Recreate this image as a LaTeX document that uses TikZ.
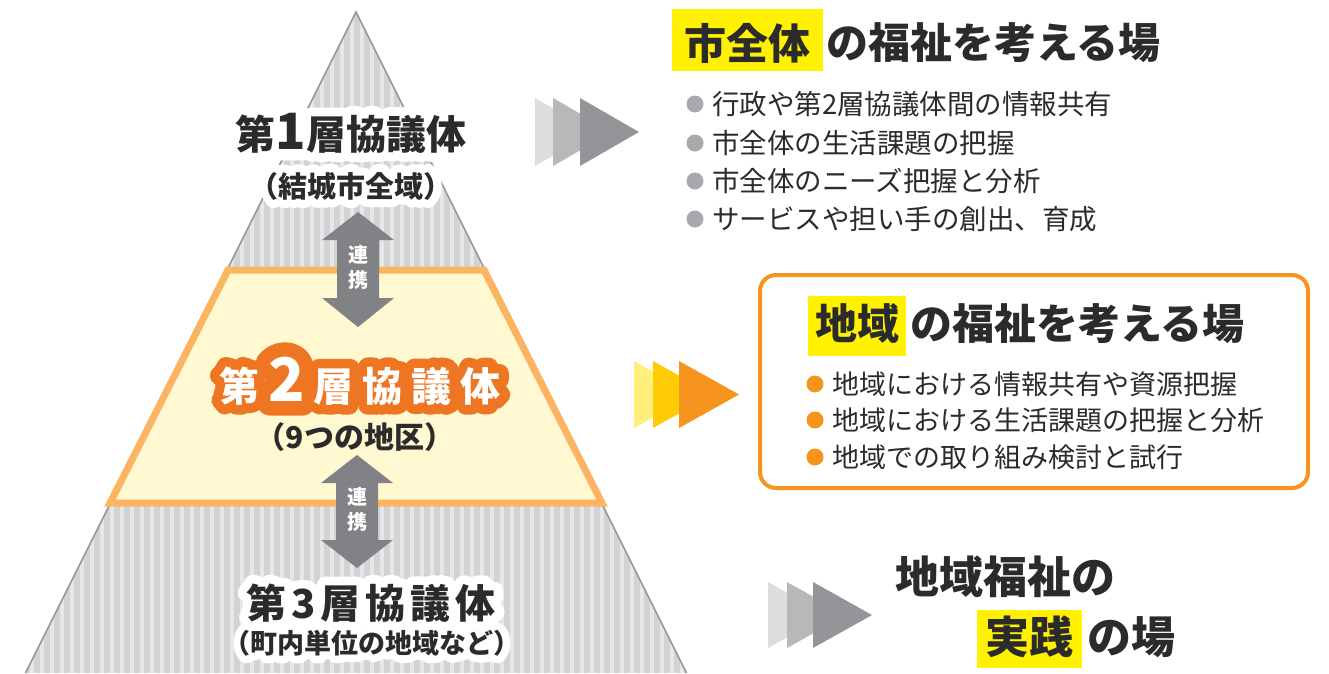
\documentclass[tikz,border=0pt]{standalone}
\usepackage{fontspec}
\newfontfamily\jp{Noto Sans CJK JP}
\definecolor{txt}{HTML}{2B2B2B}
\definecolor{hl}{HTML}{FFF100}
\definecolor{gA}{HTML}{DCDDDE}
\definecolor{gB}{HTML}{B7B8BA}
\definecolor{gC}{HTML}{939598}
\definecolor{yA}{HTML}{FFF07A}
\definecolor{yB}{HTML}{FFCB05}
\definecolor{yC}{HTML}{F7941D}
\definecolor{agray}{HTML}{808285}
\definecolor{pbase}{HTML}{D1D3D4}
\definecolor{plight}{HTML}{E6E7E8}
\definecolor{pedge}{HTML}{9A9A9A}
\definecolor{tfill}{HTML}{FFF8D0}
\definecolor{tline}{HTML}{FDB462}
\definecolor{otxt}{HTML}{EE7623}
\definecolor{bgray}{HTML}{A7A9AC}
% halo: #1 halo colour, #2 FakeBold amount, #3 text colour, #4 text
\newcommand\halotext[4]{\leavevmode\special{pdf:literal direct 1 j 1 J}\rlap{\addfontfeature{FakeBold=#2}\color{#1}#4}{\color{#3}#4}}
\tikzset{
  ptitle/.style={font=\jp\bfseries\fontsize{40}{44}\selectfont, inner sep=0},
  psub/.style={font=\jp\bfseries\fontsize{29}{32}\selectfont, inner sep=0},
  rtitle/.style={font=\jp\bfseries\fontsize{42}{46}\selectfont, text=txt, inner sep=0},
  item/.style={font=\jp\fontsize{27.5}{30}\selectfont, text=txt, anchor=west, inner sep=0},
  renkei/.style={font=\jp\bfseries\fontsize{20}{22}\selectfont, text=white, inner sep=0},
}
\begin{document}
\begin{tikzpicture}[x=1pt,y=-1pt]
\useasboundingbox (0,0) rectangle (1329,673);
% pyramid
\begin{scope}
\clip (356,12) -- (686.5,673) -- (25.5,673) -- cycle;
\fill[pbase] (0,0) rectangle (700,673);
\foreach \sx in {20,30,...,700}{\fill[plight] (\sx,0) rectangle (\sx+4,673);}
\end{scope}
\draw[pedge, line width=1.6] (25.5,673) -- (356,12) -- (686.5,673);
% middle trapezoid
\draw[tline, fill=tfill, line width=7, line join=miter] (228,270) -- (484,270) -- (602,503) -- (110,503) -- cycle;
% connection arrows
\fill[agray] (358,212) -- (394,240) -- (379,240) -- (379,298) -- (394,298) -- (358,327) -- (322,298) -- (337,298) -- (337,240) -- (322,240) -- cycle;
\node[renkei] (r1a) at (358,255) {連};
\node[renkei] (r1b) at (358,280) {携};
\fill[agray] (357,455) -- (393,483) -- (378,483) -- (378,540) -- (393,540) -- (357,568) -- (321,540) -- (336,540) -- (336,483) -- (321,483) -- cycle;
\node[renkei] (r2a) at (357,497) {連};
\node[renkei] (r2b) at (357,522) {携};
% pyramid labels
\node[ptitle] (l1) at (351,133) {\halotext{white}{45}{txt}{第{\fontsize{50}{50}\selectfont 1}層協議体}};
\node[psub] (l1s) at (351,186) {\halotext{white}{55}{txt}{（結城市全域）}};
\node[ptitle] (l2) at (360,381) {\halotext{otxt}{48}{white}{第\hspace{9pt}{\fontsize{60}{60}\selectfont 2}\hspace{9pt}層\hspace{9pt}協\hspace{9pt}議\hspace{9pt}体}};
\node[psub, font=\jp\bfseries\fontsize{30}{32}\selectfont, text=txt] (l2s) at (355,437) {（9つの地区）};
\node[ptitle] (l3) at (371,603) {\halotext{white}{45}{txt}{第\hspace{5pt}3\hspace{5pt}層\hspace{5pt}協\hspace{5pt}議\hspace{5pt}体}};
\node[psub, font=\jp\bfseries\fontsize{27}{30}\selectfont] (l3s) at (372,643) {\halotext{white}{55}{txt}{（町内単位の地域など）}};
% triple arrows
\foreach \L/\c in {535/gA,553/gB,580/gC}{\fill[\c] (\L,98) -- (\L+59,132) -- (\L,166) -- cycle;}
\foreach \L/\c in {634/yA,653/yB,679/yC}{\fill[\c] (\L,361) -- (\L+60,394.5) -- (\L,428) -- cycle;}
\foreach \L/\c in {768/gA,787/gB,813/gC}{\fill[\c] (\L,582) -- (\L+59,615) -- (\L,648) -- cycle;}
% right block 1
\fill[hl] (672,9) rectangle (823,71);
\node[rtitle] (t1a) at (747.5,43) {市全体};
\node[rtitle, anchor=west] (t1b) at (826,43) {の福祉を考える場};
\foreach \yy/\tt [count=\i] in {104/行政や第2層協議体間の情報共有,143/市全体の生活課題の把握,181/市全体のニーズ把握と分析,219/サービスや担い手の創出、育成}{
  \fill[bgray] (695,\yy) circle (8.5);
  \node[item] (a\i) at (712,\yy) {\tt};
}
% right block 2
\draw[yC, line width=4, rounded corners=16] (760,275) rectangle (1308,488);
\fill[hl] (808,296) rectangle (906,356);
\node[rtitle] (t2a) at (857,324) {地域};
\node[rtitle, anchor=west] (t2b) at (910,324) {の福祉を考える場};
\foreach \yy/\tt [count=\i] in {384/地域における情報共有や資源把握,420/地域における生活課題の把握と分析,457/地域での取り組み検討と試行}{
  \fill[yC] (815,\yy) circle (8.5);
  \node[item, font=\jp\fontsize{27}{30}\selectfont] (b\i) at (832,\yy) {\tt};
}
% right block 3
\node[rtitle, font=\jp\bfseries\fontsize{44}{48}\selectfont] (t3a) at (1005,577) {地域福祉の};
\fill[hl] (977,610) rectangle (1082,668);
\node[rtitle, font=\jp\bfseries\fontsize{44}{48}\selectfont] (t3b) at (1029.5,637) {実践};
\node[rtitle, anchor=west, font=\jp\bfseries\fontsize{44}{48}\selectfont] (t3c) at (1087,637) {の場};
\end{tikzpicture}
\end{document}
